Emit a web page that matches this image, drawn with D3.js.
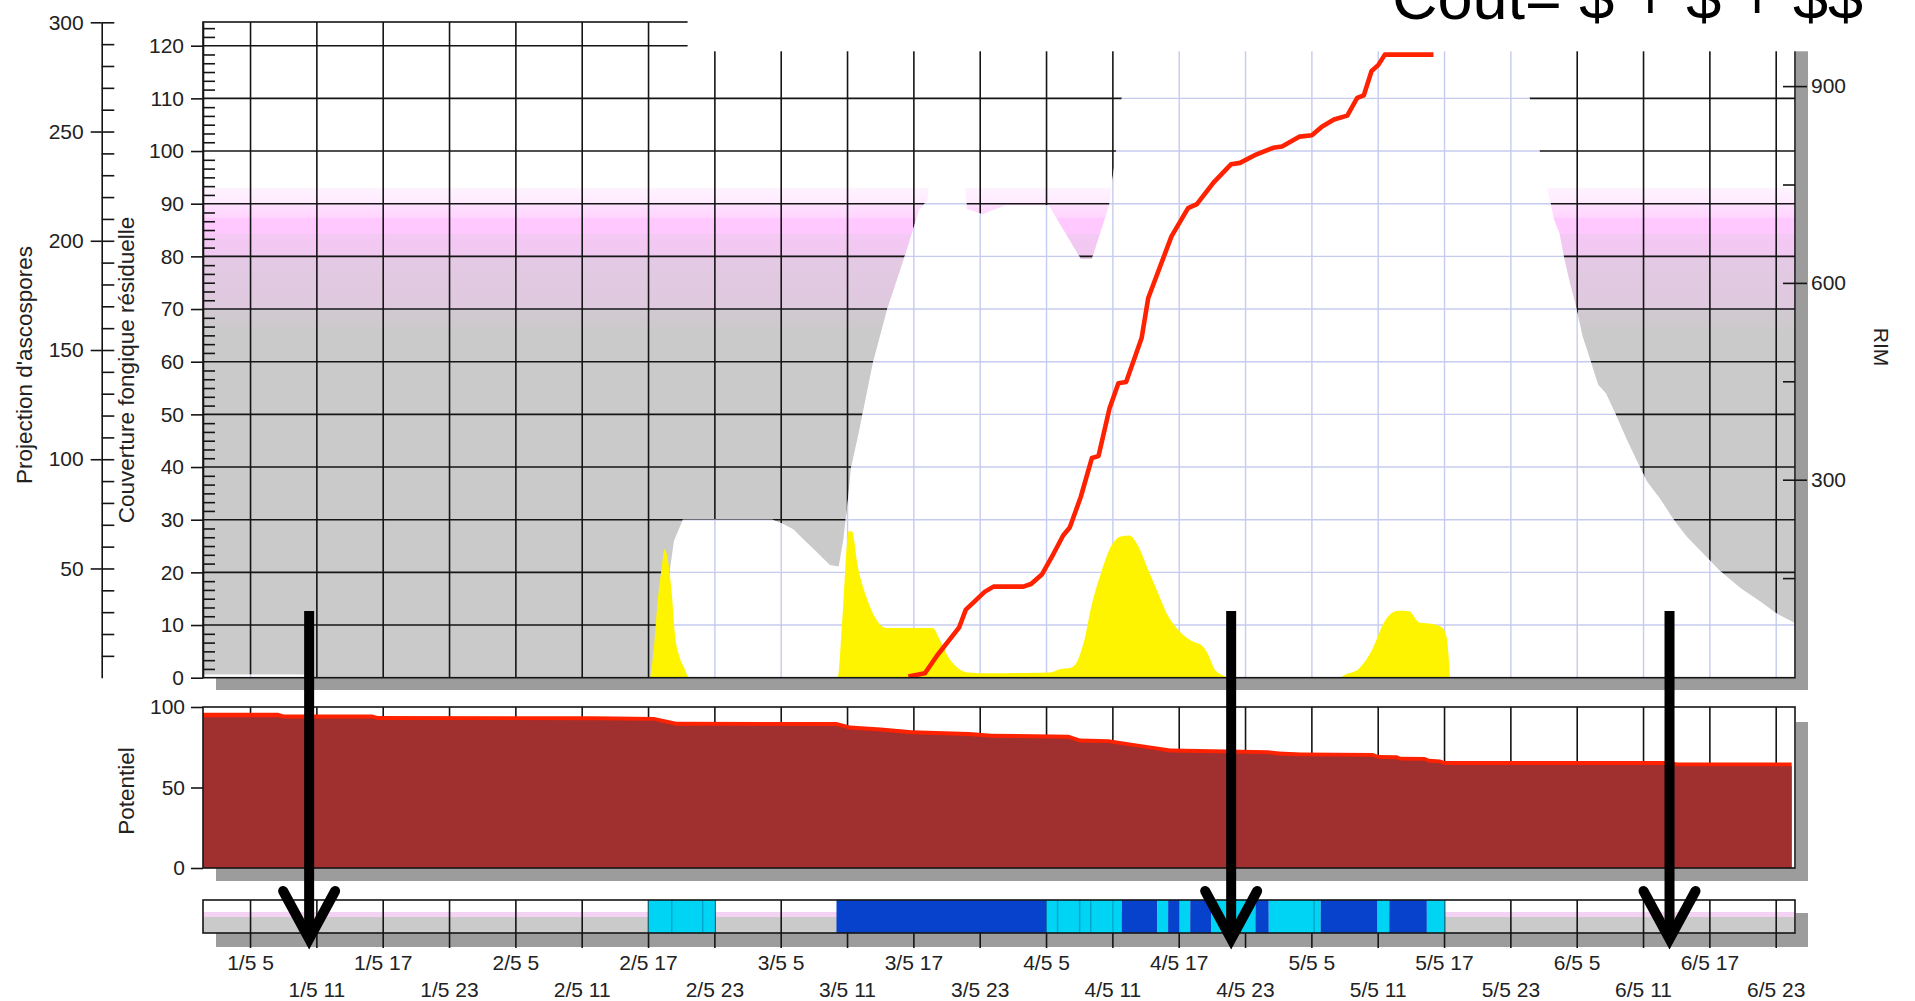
<!DOCTYPE html>
<html><head><meta charset="utf-8">
<script src="https://cdn.jsdelivr.net/npm/d3@7/dist/d3.min.js"></script>
<style>
html,body{margin:0;padding:0;background:#fff;overflow:hidden;}
svg{display:block;font-family:"Liberation Sans",Arial,sans-serif;}
</style></head><body>
<svg id="c" width="1915" height="1001"></svg>
<script>
// ---------------- DATA ----------------
const startDate = new Date(2013, 4, 1, 0, 0);           // 1/5 00:00
const domainHours = [0.7, 144.7];
const tickHours = [5,11,17,23,29,35,41,47,53,59,65,71,77,83,89,95,101,107,113,119,125,131,137,143];
const tickLabels = ["1/5 5","1/5 11","1/5 17","1/5 23","2/5 5","2/5 11","2/5 17","2/5 23",
  "3/5 5","3/5 11","3/5 17","3/5 23","4/5 5","4/5 11","4/5 17","4/5 23",
  "5/5 5","5/5 11","5/5 17","5/5 23","6/5 5","6/5 11","6/5 17","6/5 23"];
const couvTicks = [0,10,20,30,40,50,60,70,80,90,100,110,120];
const projTicks = [50,100,150,200,250,300];
const rimTicks = [300,600,900];
const potTicks = [0,50,100];

// residual fungal coverage: gray level and the uncovered ("washed") edge, hours -> couverture units
const coverTop = 84.3;
const holeEdge = [[0.7,0.6],[9.8,0.6],[10.0,0],[42.0,0],[42.9,20],[43.3,26],[44.1,30],[47.0,30],[52.2,30],
  [53.2,29.2],[54.1,28.2],[55.1,26.1],[56.1,24.1],[57.4,21.4],[58.2,21.1],[58.6,26],[59.0,33],[59.3,39.7],
  [60.0,46.4],[61.3,59.9],[62.6,70.1],[64.2,80.2],[65.5,89],[66.2,90.5],[66.4,94],[69.6,94],[69.8,89],
  [71.2,88],[73.3,89.7],[77.2,89.7],[80.1,79.5],[81.1,79.5],[82.7,90],[82.95,94.5],[83.3,100],[83.8,110],
  [84.2,125],[119.0,125],[120.7,110],[121.6,100],[122.3,92.6],[122.6,90],[122.9,87],[123.4,84.4],
  [123.8,79.9],[124.3,75.3],[124.8,71.3],[125.0,69.4],[125.5,64.8],[126.1,60.9],[126.9,55.6],[127.6,54],
  [128.4,50.4],[129.5,45.2],[130.4,41.2],[131.3,37.3],[132.5,34],[133.7,30.1],[134.9,26.8],[136.4,23.6],
  [137.9,20.3],[139.8,17],[141.6,14.4],[143.1,12.1],[144.7,10.4]];

// ascospore projection (yellow), hours -> projection units
const yellowSeries = [[41.16,0],[41.5,14.5],[41.8,33.7],[42.2,50.6],[42.45,58.8],[42.7,55.4],[43.1,38.6],
  [43.4,19.3],[43.8,9.6],[44.2,4.8],[44.7,0],[58.1,0],[58.6,32.3],[59.1,67],[59.4,67],[59.9,51.6],
  [60.7,37.1],[61.5,27.5],[62.5,22.7],[66.7,22.7],[67.3,17.8],[68.1,9.6],[68.9,4.8],[69.9,2.4],[72,2.0],
  [75,2.2],[77.3,2.4],[78.2,3.9],[79.2,4.6],[79.8,7.7],[80.4,16.9],[81.1,33.7],[81.9,47.5],[82.8,59.8],
  [83.7,64.6],[84.5,65.1],[85.2,61.2],[86.1,50.6],[87.0,39.8],[87.9,29.2],[89,21.4],[90.1,16.9],
  [91.1,14.5],[91.6,10.8],[92.2,3.9],[93.1,0.7],[93.4,0],[103.4,0],[104,1.4],[105.2,3.9],[106.4,12.3],
  [107.6,26],[108.8,30.6],[109.8,30.4],[110.7,25.3],[111.9,24.6],[112.8,22.9],[113.2,18.3],[113.5,0]];

// RIM (red line), hours -> RIM units
const rimSeries = [[64.5,0],[66.0,5],[67.1,32],[69.1,75],[69.7,102],[70.4,113],[71.4,129],[72.2,137],
  [74.9,137],[75.6,141],[76.6,156],[77.5,183],[78.5,215],[79.1,227],[80.1,274],[81.1,333],[81.7,336],
  [82.7,409],[83.5,447],[84.2,449],[85.6,516],[86.2,577],[88.3,671],[89.8,714],[90.6,720],[92.1,753],
  [93.7,781],[94.5,783],[96.0,796],[97.5,806],[98.3,808],[99.9,823],[101.0,825],[101.9,838],[103.0,849],
  [104.2,855],[105.1,882],[105.7,886],[106.4,923],[107.0,932],[107.6,948],[112.0,948]];

// Potentiel (outer red edge and inner dark red)
const potOuter = [[0.7,96.5],[7.5,96.5],[8,95.4],[16,95.4],[16.5,94.4],[36,94.2],[41.5,93.8],[43.5,90.8],
  [58,90.7],[59.2,88.5],[62,87.3],[64.8,85.6],[70,84.5],[72,83.4],[79,82.8],[80,80.4],[82.6,80],[84.5,78],
  [86.5,76],[88.2,74.2],[97,73.2],[98,72.3],[100,71.8],[106.5,71.5],[107,70.2],[108.7,70],[109,69.1],
  [111.2,69],[111.6,67.8],[112.6,67.4],[113,66.4],[133.5,66.4],[134,65.6],[144.4,65.6]];
const potInner = [[0.7,93.6],[7.5,93.6],[8,92.8],[16,92.8],[16.5,92.0],[36,91.8],[41.5,91.4],[43.5,88.4],
  [58,88.2],[59.2,86.1],[62,84.8],[64.8,83.1],[70,82.0],[72,80.9],[79,80.3],[80,78.0],[82.6,77.6],[84.5,75.6],
  [86.5,73.6],[88.2,71.8],[97,70.8],[98,69.9],[100,69.4],[106.5,69.1],[107,67.8],[108.7,67.6],[109,66.7],
  [111.2,66.6],[111.6,65.4],[112.6,65.0],[113,64.0],[133.5,64.0],[134,63.2],[144.4,63.2]];

// bottom risk strip: [start hour, end hour, type]
const stripSegments = [[41,47,"c"],[58,77,"b"],[77,83.8,"c"],[83.8,87,"b"],[87,88,"c"],[88,89,"b"],
  [89,90,"c"],[90,91.9,"b"],[91.9,95.9,"c"],[95.9,97.1,"b"],[97.1,101.8,"c"],[101.8,106.9,"b"],
  [106.9,108,"c"],[108,111.4,"b"],[111.4,113,"c"]];
const stripCellLines = [43.1,45.9,78.0,80.0,81.0,83.0,101.2];
const arrowHours = [10.3, 93.7, 133.35];

// ---------------- SCALES ----------------
const T = h => new Date(startDate.getTime() + h * 3600e3);
const X0 = 203, X1 = 1795;
const x = d3.scaleTime().domain(domainHours.map(T)).range([X0, X1]);
const yC = d3.scaleLinear().domain([0, 124.5]).range([677.7, 22]);
const yP = d3.scaleLinear().domain([0, 300]).range([677.7, 22.3]);
const yR = d3.scaleLinear().domain([0, 1000]).range([676.5, 20.5]);
const yPot = d3.scaleLinear().domain([0, 100]).range([868, 707]);
const S0 = 900, S1 = 933;

const svg = d3.select("#c");
const defs = svg.append("defs");
const TXT = "#222";
const SH = "#9c9c9c";

// shadows
[[216,678,1592,12],[1796,35,12,655],[216,868,1592,13],[1796,722,12,159],[216,933,1592,14],[1796,913,12,34]]
  .forEach(r => svg.append("rect").attr("x",r[0]).attr("y",r[1]).attr("width",r[2]).attr("height",r[3]).attr("fill",SH));

// ---------------- TOP PANEL ----------------
defs.append("clipPath").attr("id","plotClip").append("rect")
  .attr("x",X0).attr("y",yC(124.5)).attr("width",X1-X0).attr("height",yC(0)-yC(124.5));
const topG = svg.append("g").attr("clip-path","url(#plotClip)");
topG.append("rect").attr("x",X0).attr("y",yC(124.5)).attr("width",X1-X0).attr("height",yC(0)-yC(124.5)).attr("fill","#fff");
topG.append("rect").attr("x",X0).attr("y",yC(coverTop)).attr("width",X1-X0).attr("height",yC(0)-yC(coverTop)).attr("fill","#cacaca");

// pink band gradient (66 -> 93)
const bandTop = 93, bandBot = 66;
const grad = defs.append("linearGradient").attr("id","band").attr("x1",0).attr("y1",0).attr("x2",0).attr("y2",1);
const fr = v => (bandTop - v) / (bandTop - bandBot);
[[93,0.22],[90,0.38],[90,0.55],[87.2,0.78],[87.2,1],[84.3,1],[84.3,0.8],[80,0.72],[80,0.5],[70,0.38],[70,0.15],[66,0.04]]
  .forEach(s => grad.append("stop").attr("offset",fr(s[0])).attr("stop-color","#ffc8ff").attr("stop-opacity",s[1]));
topG.append("rect").attr("x",X0).attr("y",yC(bandTop)).attr("width",X1-X0).attr("height",yC(bandBot)-yC(bandTop)).attr("fill","url(#band)");

function grid(g, color, w) {
  g.selectAll(null).data(couvTicks.slice(1)).join("line")
    .attr("x1",X0).attr("x2",X1).attr("y1",d=>yC(d)).attr("y2",d=>yC(d))
    .attr("stroke",color).attr("stroke-width",w);
  g.selectAll(null).data(tickHours).join("line")
    .attr("x1",d=>x(T(d))).attr("x2",d=>x(T(d))).attr("y1",yC(124.5)).attr("y2",yC(0))
    .attr("stroke",color).attr("stroke-width",w);
}
grid(topG.append("g"), "#151515", 1.6);

// uncovered region (white with light grid)
const holeArea = d3.area().x(d=>x(T(d[0]))).y0(yC(0)).y1(d=>yC(d[1]));
topG.append("path").attr("d",holeArea(holeEdge)).attr("fill","#fff");
defs.append("clipPath").attr("id","holeClip").append("path").attr("d",holeArea(holeEdge));
grid(topG.append("g").attr("clip-path","url(#holeClip)"), "#c6cbef", 1.4);

// yellow ascospore projection
topG.append("path")
  .attr("d", d3.area().curve(d3.curveMonotoneX).x(d=>x(T(d[0]))).y0(yP(0)).y1(d=>yP(d[1]))(yellowSeries))
  .attr("fill","#fff400");

// red RIM line
topG.append("path")
  .attr("d", d3.line().x(d=>x(T(d[0]))).y(d=>yR(d[1]))(rimSeries))
  .attr("fill","none").attr("stroke","#ff2200").attr("stroke-width",4.6).attr("stroke-linejoin","round");

svg.append("rect").attr("x",X0).attr("y",yC(124.5)).attr("width",X1-X0).attr("height",yC(0)-yC(124.5))
  .attr("fill","none").attr("stroke","#151515").attr("stroke-width",1.6);

// axes styling helper
function style(g, labels) {
  g.selectAll("path.domain").attr("stroke","#151515").attr("stroke-width",1.6);
  g.selectAll(".tick line").attr("stroke","#151515").attr("stroke-width",1.6);
  g.selectAll(".tick text").attr("fill",TXT).attr("font-size",21).attr("font-family","Liberation Sans, Arial, sans-serif");
  if (!labels) g.selectAll(".tick text").remove();
}
// couverture axis
style(svg.append("g").attr("transform",`translate(${X0},0)`)
  .call(d3.axisLeft(yC).tickValues(couvTicks).tickSize(12).tickSizeOuter(0).tickPadding(7)), true);
const minorC = d3.range(1, 75).filter(k => k % 6 !== 0).map(k => k * 10 / 6);
const mc = svg.append("g").attr("transform",`translate(${X0},0)`)
  .call(d3.axisRight(yC).tickValues(minorC).tickSize(12).tickFormat(""));
mc.select("path.domain").remove(); style(mc, false);

// projection axis
const PX = 101.7;
style(svg.append("g").attr("transform",`translate(${PX},0)`)
  .call(d3.axisLeft(yP).tickValues(projTicks).tickSize(11).tickSizeOuter(0).tickPadding(7)), true);
const mp = svg.append("g").attr("transform",`translate(${PX},0)`)
  .call(d3.axisRight(yP).tickValues(d3.range(10, 301, 10)).tickSize(12.6).tickFormat(""));
mp.select("path.domain").remove(); style(mp, false);

// RIM axis
const ra = svg.append("g").attr("transform",`translate(${X1},0)`)
  .call(d3.axisRight(yR).tickValues(rimTicks).tickSize(12).tickPadding(4));
ra.select("path.domain").remove(); style(ra, true);
const rm = svg.append("g").attr("transform",`translate(${X1},0)`)
  .call(d3.axisLeft(yR).tickValues([150,300,450,600,750,900]).tickSize(12).tickFormat(""));
rm.select("path.domain").remove(); style(rm, false);

// ---------------- POTENTIEL PANEL ----------------
svg.append("rect").attr("x",X0).attr("y",yPot(100)).attr("width",X1-X0).attr("height",yPot(0)-yPot(100)).attr("fill","#fff");
svg.append("g").selectAll("line").data(tickHours).join("line")
  .attr("x1",d=>x(T(d))).attr("x2",d=>x(T(d))).attr("y1",yPot(100)).attr("y2",yPot(0))
  .attr("stroke","#151515").attr("stroke-width",1.6);
const potArea = d3.area().x(d=>x(T(d[0]))).y0(yPot(0)).y1(d=>yPot(d[1]));
svg.append("path").attr("d",potArea(potOuter)).attr("fill","#ff2200");
svg.append("path").attr("d",potArea(potInner)).attr("fill","#a03030");
svg.append("rect").attr("x",X0).attr("y",yPot(100)).attr("width",X1-X0).attr("height",yPot(0)-yPot(100))
  .attr("fill","none").attr("stroke","#151515").attr("stroke-width",1.6);
const pa = svg.append("g").attr("transform",`translate(${X0},0)`)
  .call(d3.axisLeft(yPot).tickValues(potTicks).tickSize(12).tickPadding(6));
pa.select("path.domain").remove(); style(pa, true);

// ---------------- STRIP ----------------
svg.append("rect").attr("x",X0).attr("y",S0).attr("width",X1-X0).attr("height",S1-S0).attr("fill","#fff");
svg.append("rect").attr("x",X0).attr("y",S0+12).attr("width",X1-X0).attr("height",6).attr("fill","#f3d2f3");
svg.append("rect").attr("x",X0).attr("y",S0+17).attr("width",X1-X0).attr("height",S1-S0-17).attr("fill","#cacaca");
svg.append("g").selectAll("line").data(tickHours).join("line")
  .attr("x1",d=>x(T(d))).attr("x2",d=>x(T(d))).attr("y1",S0).attr("y2",S1+15)
  .attr("stroke","#151515").attr("stroke-width",1.6);
svg.append("g").selectAll("rect").data(stripSegments).join("rect")
  .attr("x",d=>x(T(d[0]))).attr("width",d=>x(T(d[1]))-x(T(d[0])))
  .attr("y",S0).attr("height",S1-S0)
  .attr("fill",d=>d[2]==="b" ? "#0742cc" : "#00d4f4");
svg.append("g").selectAll("line").data(stripCellLines).join("line")
  .attr("x1",d=>x(T(d))).attr("x2",d=>x(T(d))).attr("y1",S0).attr("y2",S1)
  .attr("stroke","#00a9cc").attr("stroke-width",1.5);
svg.append("rect").attr("x",X0).attr("y",S0).attr("width",X1-X0).attr("height",S1-S0)
  .attr("fill","none").attr("stroke","#151515").attr("stroke-width",1.6);

// time labels
svg.append("g").selectAll("text").data(tickHours).join("text")
  .attr("x",d=>x(T(d))).attr("y",(d,i)=> i%2===0 ? 970 : 997)
  .attr("text-anchor","middle").attr("font-size",21).attr("fill",TXT)
  .text((d,i)=>tickLabels[i]);

// axis titles
function vtitle(tx, ty, rot, txt, fs) {
  svg.append("text").attr("transform",`translate(${tx},${ty}) rotate(${rot})`)
    .attr("text-anchor","middle").attr("dominant-baseline","central")
    .attr("font-size",fs).attr("fill",TXT).text(txt);
}
vtitle(24, 365, -90, "Projection d'ascospores", 22.5);
vtitle(126, 370, -90, "Couverture fongique résiduelle", 22.5);
vtitle(126, 791, -90, "Potentiel", 22.5);
vtitle(1881, 347, 90, "RIM", 21);

// white cover at top right + cost title (partly cut by the top edge, as in the reference)
svg.append("rect").attr("x",687.6).attr("y",0).attr("width",1915-687.6).attr("height",51.3).attr("fill","#fff");
svg.append("text").attr("x",1392).attr("y",19).attr("font-size",63).attr("fill","#000")
  .attr("font-family","Liberation Sans, Arial, sans-serif").text("Cout= $ + $ + $$");

// annotation arrows
const arr = svg.append("g").attr("stroke","#000").attr("fill","none");
arrowHours.forEach(h => {
  const ax = x(T(h));
  arr.append("line").attr("x1",ax).attr("x2",ax).attr("y1",611).attr("y2",935).attr("stroke-width",10);
  arr.append("polyline").attr("points",`${ax-26},${891} ${ax},${939} ${ax+26},${891}`)
    .attr("stroke-width",10).attr("stroke-linecap","round").attr("stroke-linejoin","miter");
});
</script>
</body></html>
